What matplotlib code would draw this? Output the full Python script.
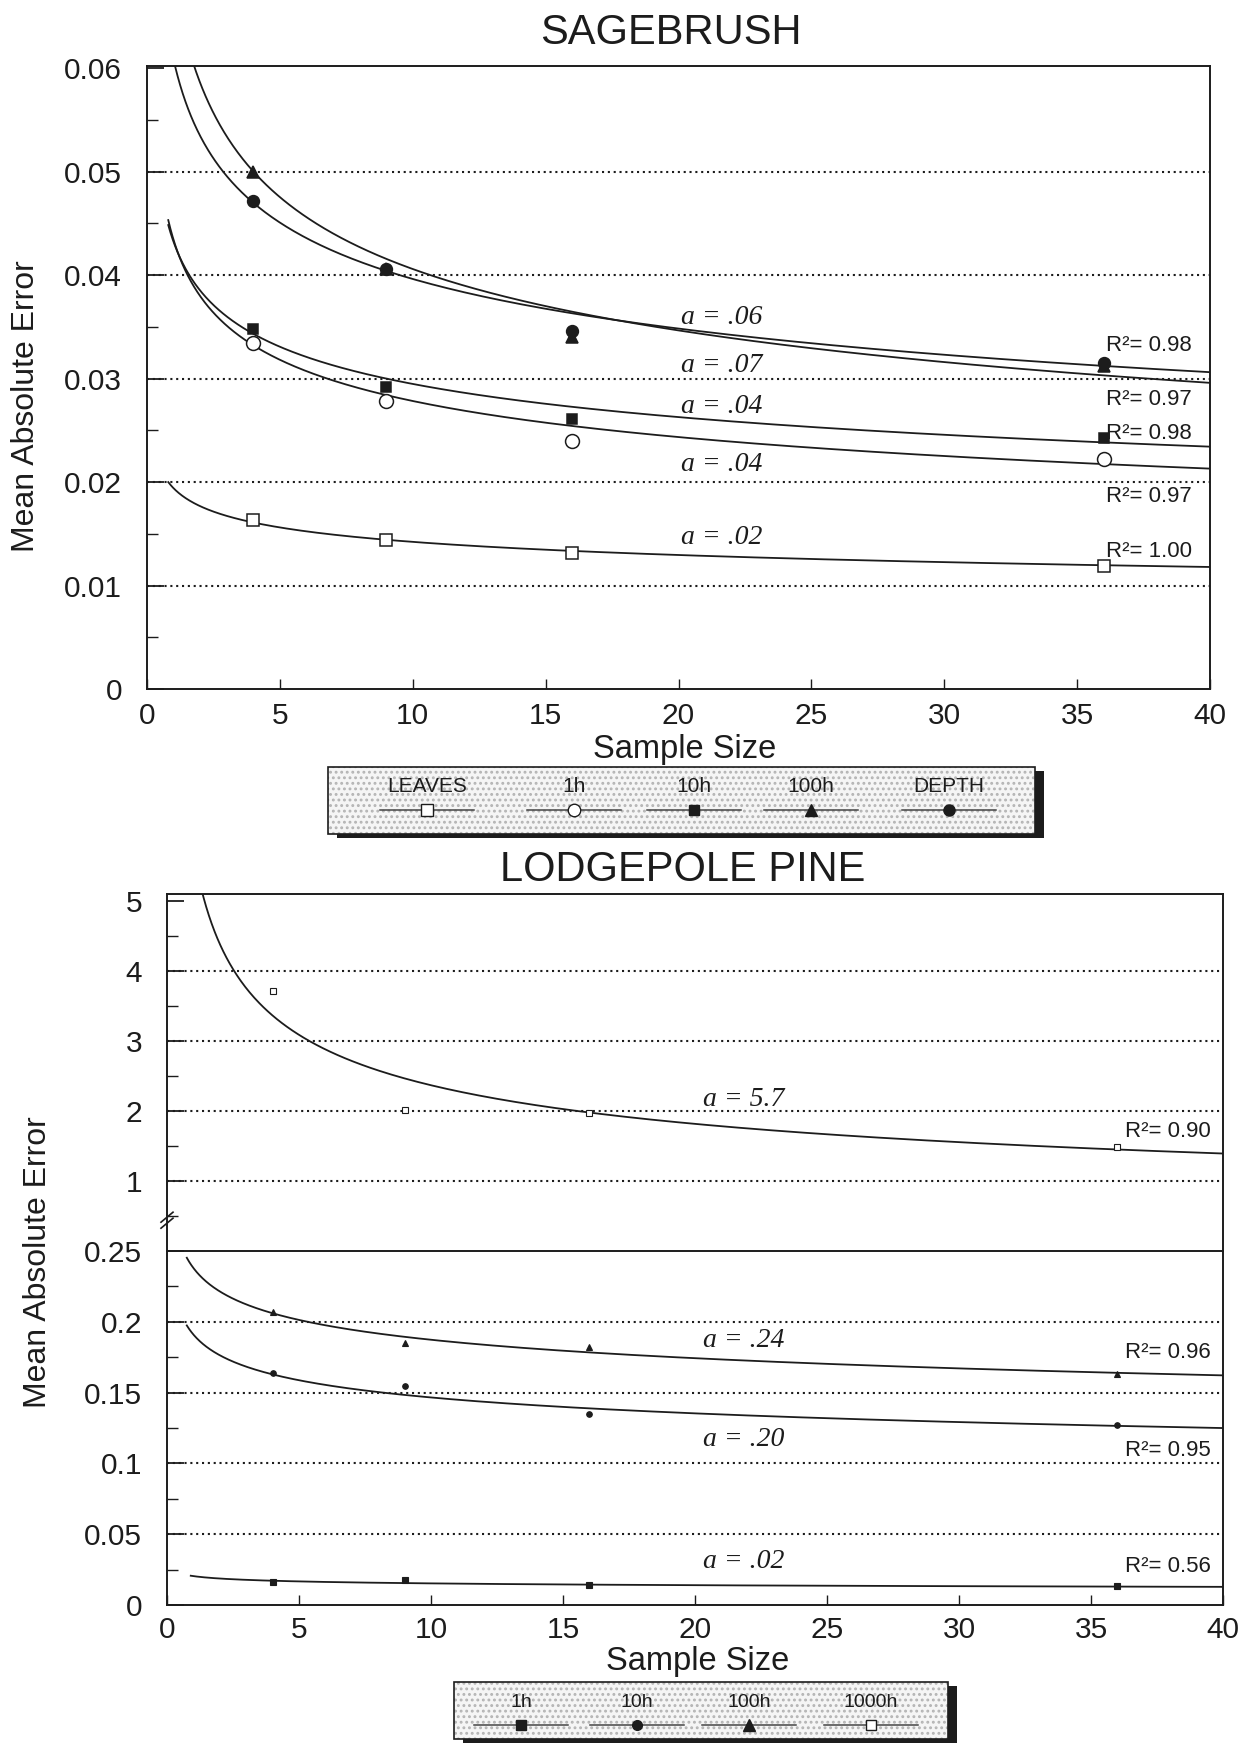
import numpy as np
import matplotlib
matplotlib.use('Agg')
import matplotlib.pyplot as plt
from matplotlib.patches import Rectangle
from matplotlib.lines import Line2D
from matplotlib.ticker import FixedLocator, MultipleLocator, FixedFormatter

plt.rcParams['font.family'] = ['Liberation Sans', 'DejaVu Sans']
plt.rcParams['hatch.linewidth'] = 1.3

W, H, DPI = 1248, 1744, 100
INK = '#1c1c1c'

# ---------------- data ----------------
sample_sizes = [4, 9, 16, 36]

# Sagebrush
sage_series = ['LEAVES', '1h', '10h', '100h', 'DEPTH']
sage_leaves = [0.0163, 0.0144, 0.0131, 0.0119]
sage_1h = [0.0334, 0.0278, 0.0240, 0.0222]
sage_10h = [0.0348, 0.0292, 0.0261, 0.0243]
sage_100h = [0.0500, 0.0406, 0.0340, 0.0312]
sage_depth = [0.0472, 0.0406, 0.0346, 0.0315]
# fitted curves  MAE = a * n^(-b)
sage_fit_a = [0.0194, 0.0434, 0.0432, 0.0686, 0.0608]
sage_fit_b = [0.135, 0.193, 0.166, 0.228, 0.186]
sage_fit_start = [0.8, 0.8, 0.8, 0.5, 0.5]
sage_a_text = ['a = .02', 'a = .04', 'a = .04', 'a = .07', 'a = .06']
sage_a_y = [0.0146, 0.0217, 0.0273, 0.0313, 0.0359]
sage_r2_text = ['R²= 1.00', 'R²= 0.97', 'R²= 0.98', 'R²= 0.97', 'R²= 0.98']
sage_r2_y = [0.0133, 0.0186, 0.0247, 0.0280, 0.0332]
sage_yticks = [0, 0.01, 0.02, 0.03, 0.04, 0.05, 0.06]
sage_yticklabels = ['0', '0.01', '0.02', '0.03', '0.04', '0.05', '0.06']

# Lodgepole pine
lp_series = ['1h', '10h', '100h', '1000h']
lp_1h = [0.0160, 0.0175, 0.0138, 0.0132]
lp_10h = [0.1637, 0.155, 0.135, 0.127]
lp_100h = [0.2066, 0.185, 0.182, 0.163]
lp_1000h = [3.71, 2.01, 1.97, 1.48]
lp_fit_a = [0.0204, 0.191, 0.238, 5.72]
lp_fit_b = [0.126, 0.115, 0.104, 0.383]
lp_fit_start = [0.9, 0.75, 0.75, 0.5]
lp_a_text = ['a = .02', 'a = .20', 'a = .24', 'a = 5.7']
lp_a_y = [0.0308, 0.117, 0.187, 2.16]
lp_r2_text = ['R²= 0.56', 'R²= 0.95', 'R²= 0.96', 'R²= 0.90']
lp_r2_y = [0.0272, 0.109, 0.178, 1.71]
lp_low_yticks = [0, 0.05, 0.1, 0.15, 0.2, 0.25]
lp_low_yticklabels = ['0', '0.05', '0.1', '0.15', '0.2', '0.25']
lp_up_yticks = [1, 2, 3, 4, 5]
lp_up_yticklabels = ['1', '2', '3', '4', '5']

x_ticks = [0, 5, 10, 15, 20, 25, 30, 35, 40]

# ---------------- figure ----------------
fig = plt.figure(figsize=(W / DPI, H / DPI), dpi=DPI)


def frac(x0, y0, x1, y1):
    return [x0 / W, 1 - y1 / H, (x1 - x0) / W, (y1 - y0) / H]


def fx(x):
    return x / W


def fy(y):
    return 1 - y / H


def style(ax, xlabels=True):
    for s in ax.spines.values():
        s.set_color(INK)
        s.set_linewidth(1.4)
    ax.tick_params(which='both', direction='in', color=INK, labelcolor=INK,
                   labelsize=21.5)
    ax.tick_params(axis='y', which='major', length=12, width=1.3, pad=18)
    ax.tick_params(axis='y', which='minor', length=8, width=1.0)
    ax.tick_params(axis='x', which='major', length=7, width=1.0, pad=9)
    ax.set_xlim(0, 40)
    if xlabels:
        ax.set_xticks(x_ticks)
        ax.set_xticklabels([str(t) for t in x_ticks])
    else:
        ax.set_xticks([])


def dotted(ax, vals):
    for v in vals:
        ax.axhline(v, ls=(0, (1, 1.8)), lw=1.5, color=INK, zorder=1)


def curve(ax, a, b, start):
    n = np.geomspace(start, 40, 400)
    ax.plot(n, a * n ** (-b), color=INK, lw=1.3, zorder=2)


serif_it = dict(family=['Liberation Serif', 'DejaVu Serif'], style='italic')

# ---- Sagebrush ----
ax1 = fig.add_axes(frac(147, 66, 1210, 689))
style(ax1)
ax1.set_ylim(0, 0.0602)
ax1.yaxis.set_major_locator(FixedLocator(sage_yticks))
ax1.yaxis.set_major_formatter(FixedFormatter(sage_yticklabels))
ax1.yaxis.set_minor_locator(MultipleLocator(0.005))
dotted(ax1, [0.01, 0.02, 0.03, 0.04, 0.05])
for a, b, s in zip(sage_fit_a, sage_fit_b, sage_fit_start):
    curve(ax1, a, b, s)

mk = dict(color=INK, ls='none', zorder=4, mec=INK, mew=1.1)
ax1.plot(sample_sizes, sage_leaves, marker='s', ms=8.5, mfc='white', **mk)
ax1.plot(sample_sizes, sage_1h, marker='o', ms=10, mfc='white', **mk)
ax1.plot(sample_sizes, sage_10h, marker='s', ms=7, mfc=INK, **mk)
ax1.plot(sample_sizes, sage_100h, marker='^', ms=8.5, mfc=INK, **mk)
ax1.plot(sample_sizes, sage_depth, marker='o', ms=8.5, mfc=INK, **mk)

for t, y in zip(sage_a_text, sage_a_y):
    ax1.text(20.1, y, t, fontsize=20, color=INK, ha='left', va='center', **serif_it)
for t, y in zip(sage_r2_text, sage_r2_y):
    ax1.text(36.1, y, t, fontsize=16, color=INK, ha='left', va='center')

fig.text(fx(671), fy(33), 'SAGEBRUSH', fontsize=30, color=INK, ha='center', va='center')
fig.text(fx(26), fy(406), 'Mean Absolute Error', fontsize=23, color=INK,
         rotation=90, ha='center', va='center')
fig.text(fx(685), fy(758), 'Sample Size', fontsize=23.5, color=INK,
         ha='center', va='baseline')

# ---- Lodgepole pine ----
ax2u = fig.add_axes(frac(167, 894, 1223, 1251))
ax2l = fig.add_axes(frac(167, 1251, 1223, 1605))
style(ax2u, xlabels=False)
style(ax2l)
ax2u.spines['bottom'].set_visible(False)
ax2u.set_ylim(0, 5.1)
ax2u.yaxis.set_major_locator(FixedLocator(lp_up_yticks))
ax2u.yaxis.set_major_formatter(FixedFormatter(lp_up_yticklabels))
ax2u.yaxis.set_minor_locator(MultipleLocator(0.5))
ax2l.set_ylim(0, 0.25)
ax2l.yaxis.set_major_locator(FixedLocator(lp_low_yticks))
ax2l.yaxis.set_major_formatter(FixedFormatter(lp_low_yticklabels))
ax2l.yaxis.set_minor_locator(MultipleLocator(0.025))
ax2l.tick_params(axis='x', pad=8)
dotted(ax2u, [1, 2, 3, 4])
dotted(ax2l, [0.05, 0.1, 0.15, 0.2])

for a, b, s in zip(lp_fit_a[:3], lp_fit_b[:3], lp_fit_start[:3]):
    curve(ax2l, a, b, s)
curve(ax2u, lp_fit_a[3], lp_fit_b[3], lp_fit_start[3])

mk2 = dict(color=INK, ls='none', zorder=4, mec=INK, mew=0.8)
ax2l.plot(sample_sizes, lp_1h, marker='s', ms=3.8, mfc=INK, **mk2)
ax2l.plot(sample_sizes, lp_10h, marker='o', ms=4, mfc=INK, **mk2)
ax2l.plot(sample_sizes, lp_100h, marker='^', ms=4.5, mfc=INK, **mk2)
ax2u.plot(sample_sizes, lp_1000h, marker='s', ms=4, mfc='white', **mk2)

for i, (t, y) in enumerate(zip(lp_a_text, lp_a_y)):
    axx = ax2u if i == 3 else ax2l
    axx.text(20.3, y, t, fontsize=20, color=INK, ha='left', va='center', **serif_it)
for i, (t, y) in enumerate(zip(lp_r2_text, lp_r2_y)):
    axx = ax2u if i == 3 else ax2l
    axx.text(36.3, y, t, fontsize=16, color=INK, ha='left', va='center')

# axis-break mark on the left spine of the upper panel
yb = 0.44 / 5.1
dx, dy, sep = 6 / 1056, 5 / 357, 6 / 357
for k in (-0.5, 0.5):
    ax2u.plot([-dx, dx], [yb - dy + k * sep, yb + dy + k * sep], color=INK, lw=1.2,
              transform=ax2u.transAxes, clip_on=False, zorder=5)

fig.text(fx(683), fy(870), 'LODGEPOLE PINE', fontsize=30, color=INK, ha='center', va='center')
fig.text(fx(38), fy(1262), 'Mean Absolute Error', fontsize=23, color=INK,
         rotation=90, ha='center', va='center')
fig.text(fx(698), fy(1670), 'Sample Size', fontsize=23.5, color=INK,
         ha='center', va='baseline')


# ---------------- legends ----------------
def legend_box(x0, y0, x1, y1, labels, styles, centers, label_y, handle_y, fs):
    fig.add_artist(Rectangle((fx(x0 + 9), fy(y1 + 4)), (x1 - x0) / W, (y1 - y0) / H,
                             transform=fig.transFigure, facecolor=INK, edgecolor='none'))
    fig.add_artist(Rectangle((fx(x0), fy(y1)), (x1 - x0) / W, (y1 - y0) / H,
                             transform=fig.transFigure, facecolor='#f5f5f5',
                             edgecolor='#b4b4b4', hatch='...', lw=0))
    fig.add_artist(Rectangle((fx(x0), fy(y1)), (x1 - x0) / W, (y1 - y0) / H,
                             transform=fig.transFigure, fill=False,
                             edgecolor=INK, lw=1.2))
    for lab, st, cx in zip(labels, styles, centers):
        fig.text(fx(cx), fy(label_y), lab, fontsize=fs, color=INK, ha='center', va='center')
        fig.add_artist(Line2D([fx(cx - 47), fx(cx + 47)], [fy(handle_y)] * 2,
                              transform=fig.transFigure, color='#444444', lw=1.1))
        m, ms, fc = st
        fig.add_artist(Line2D([fx(cx)], [fy(handle_y)], transform=fig.transFigure,
                              marker=m, ms=ms, mfc=fc, mec=INK, mew=1.0, ls='none'))


legend_box(328, 767, 1035, 834, sage_series,
           [('s', 8, 'white'), ('o', 9, 'white'), ('s', 7, INK), ('^', 8, INK), ('o', 8, INK)],
           [427, 574, 694, 811, 949], 786, 810, 15)
legend_box(454, 1682, 948, 1739, lp_series,
           [('s', 7, INK), ('o', 7, INK), ('^', 8, INK), ('s', 7, 'white')],
           [521, 637, 749, 871], 1702, 1725, 14)

fig.savefig('out.png', dpi=DPI)
